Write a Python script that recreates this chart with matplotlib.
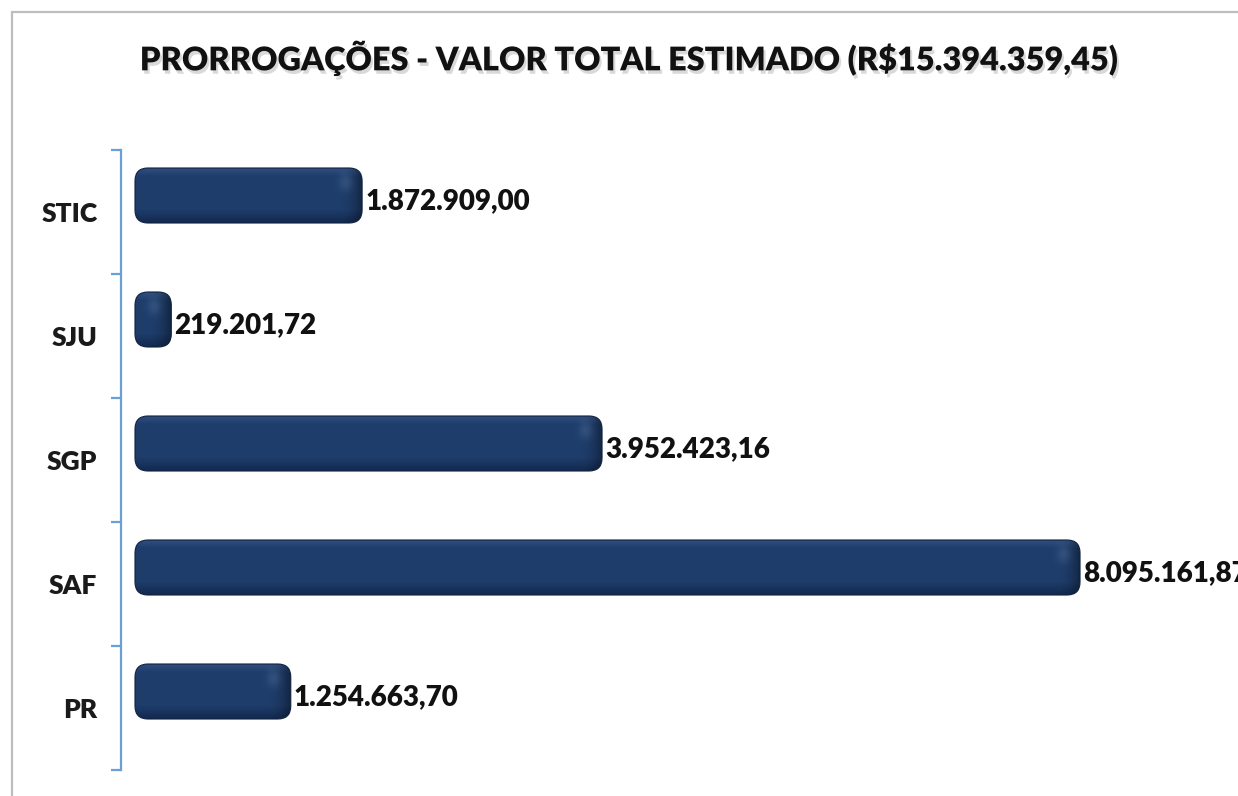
import numpy as np
import matplotlib
matplotlib.use("Agg")
from matplotlib import pyplot as plt
from matplotlib.patches import FancyBboxPatch, Rectangle
import matplotlib.patheffects as pe

plt.rcParams['font.family'] = ['Lato', 'DejaVu Sans']

# dados
categorias = ["PR", "SAF", "SGP", "SJU", "STIC"]
valores = [1254663.70, 8095161.87, 3952423.16, 219201.72, 1872909.00]
rotulos = ["1.254.663,70", "8.095.161,87", "3.952.423,16", "219.201,72", "1.872.909,00"]
titulo = "PRORROGAÇÕES - VALOR TOTAL ESTIMADO (R$15.394.359,45)"

W, H, DPI = 1238, 796, 100
fig = plt.figure(figsize=(W / DPI, H / DPI), dpi=DPI)

# moldura cinza do grafico (sai pela direita e por baixo)
fig.patches.append(Rectangle((12 / W, -0.05), 1.2, 1 - 12 / H + 0.05, transform=fig.transFigure,
                             fill=False, edgecolor="#BDBDBD", lw=1.6))

ax = fig.add_axes([121 / W, 26 / H, (W - 121) / W, 620 / H])

upx = 8667.0  # unidades por pixel no eixo x
xmin = -25 * upx
ax.set_xlim(xmin, xmin + (W - 121) * upx)
ax.set_ylim(-0.5, len(categorias) - 0.5)
ypx = 1.0 / 124  # unidades y por pixel

for s in ["top", "right", "bottom"]:
    ax.spines[s].set_visible(False)
ax.spines["left"].set_color("#6A9FD8")
ax.spines["left"].set_linewidth(1.6)
ax.set_xticks([])

ax.set_yticks(range(len(categorias)))
ax.set_yticklabels(categorias, fontsize=19, fontweight="heavy", color="#1a1a1a")
ax.tick_params(axis="y", which="major", length=0, pad=17)
ax.set_yticks(np.arange(-0.5, len(categorias), 1.0), minor=True)
ax.tick_params(axis="y", which="minor", length=7, width=1.6, color="#6A9FD8", direction="out")

# barras arredondadas com sombreamento
hpx = 55
altura = hpx * ypx
desloc = 16.5 * ypx
ext_esq = 11
raio = 13 * upx
aspect = ypx / upx

c_top = np.array([0.19, 0.31, 0.50])
c_mid = np.array([0.12, 0.24, 0.42])
c_bot = np.array([0.07, 0.16, 0.31])


def textura(wpx):
    ys = np.arange(hpx)[:, None] + 0.5
    xs = np.arange(wpx)[None, :] + 0.5
    t = ys / hpx
    img = np.zeros((hpx, wpx, 3))
    for k in range(3):
        col = np.where(t < 0.15, c_top[k] + (c_mid[k] - c_top[k]) * (t / 0.15),
                       np.where(t < 0.75, c_mid[k],
                                c_mid[k] + (c_bot[k] - c_mid[k]) * ((t - 0.75) / 0.25)))
        img[:, :, k] = col * np.ones((1, wpx))
    dx = wpx - xs
    cap = 24.0
    fator = np.where(dx < cap, 1 - 0.4 * ((cap - dx) / cap) ** 2, 1.0) * np.ones((hpx, 1))
    img = img * fator[:, :, None]
    brilho = 0.08 * np.exp(-(((dx - 17) / 7.0) ** 2 + ((ys - 14) / 9.0) ** 2))
    img = img + brilho[:, :, None]
    return np.clip(img, 0, 1)


for i, v in enumerate(valores):
    yc = i + desloc
    x0 = -ext_esq * upx
    x1 = v
    wpx = int(round((x1 - x0) / upx))
    patch = FancyBboxPatch((x0, yc - altura / 2), x1 - x0, altura,
                           boxstyle="round,pad=0,rounding_size=%f" % raio,
                           mutation_aspect=aspect, facecolor="none",
                           edgecolor="#0f2140", lw=0.8, zorder=3)
    ax.add_patch(patch)
    im = ax.imshow(textura(wpx), extent=(x0, x1, yc - altura / 2, yc + altura / 2),
                   aspect="auto", origin="upper", zorder=2, interpolation="bilinear")
    im.set_clip_path(patch)
    ax.text(x1 + 3 * upx, yc - 6 * ypx, rotulos[i], fontsize=20, fontweight="heavy",
            color="#111111", va="center", ha="left", zorder=4)

fig.text(629 / W, 1 - 58 / H, titulo, fontsize=23.4, fontweight="heavy", color="#111111",
         ha="center", va="center",
         path_effects=[pe.SimplePatchShadow(offset=(1.5, -2.5), alpha=0.15), pe.Normal()])

fig.savefig("out.png", dpi=DPI)
